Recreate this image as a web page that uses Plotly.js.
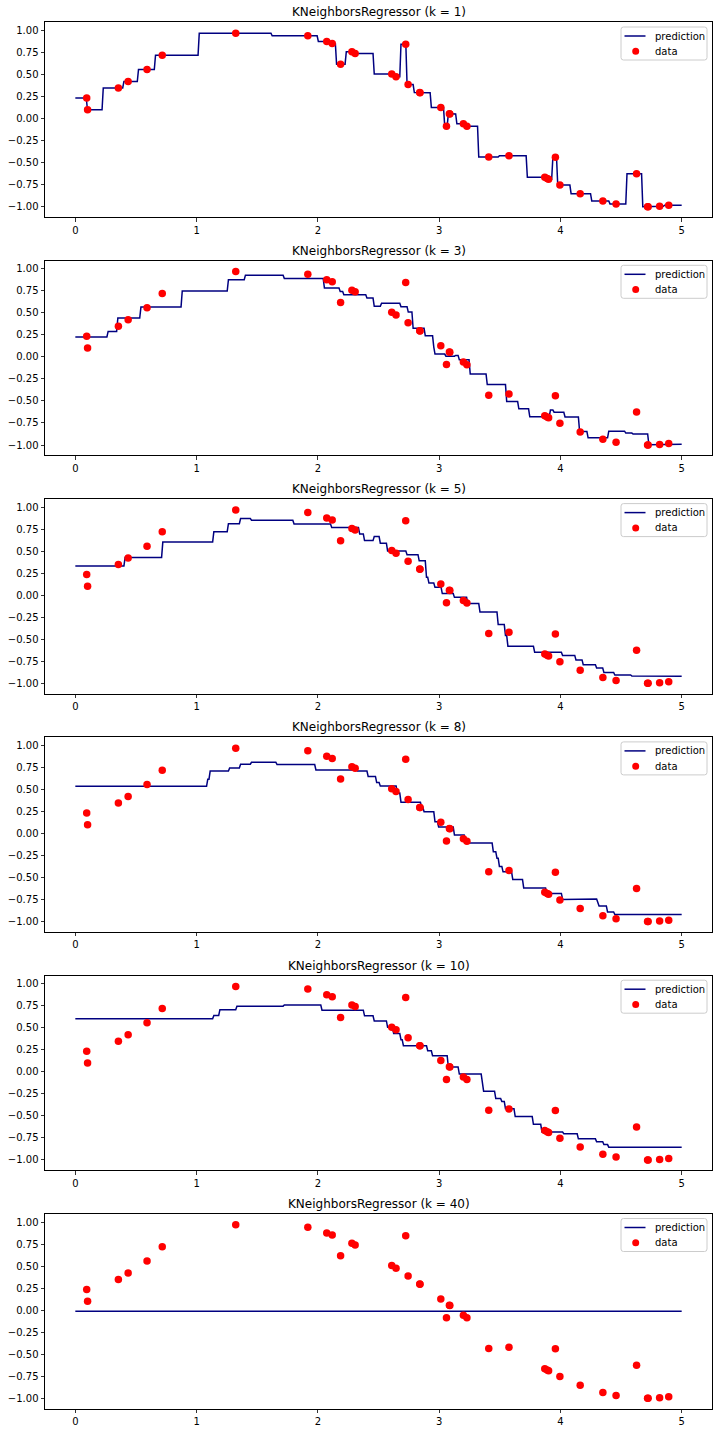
<!DOCTYPE html>
<html>
<head>
<meta charset="utf-8">
<script src="https://cdn.plot.ly/plotly-3.0.1.min.js"></script>
<style>html,body{margin:0;padding:0;background:#fff;}#chart{width:719px;height:1432px;}</style>
</head>
<body>
<div id="chart"></div>
<script>
// Data points (x sorted)
const dataX = [0.0939, 0.1011, 0.3552, 0.4356, 0.5914, 0.7168, 1.3228, 1.9172, 2.0733, 2.1183,
  2.1874, 2.2808, 2.3074, 2.6092, 2.6445, 2.7244, 2.7441, 2.8402, 2.8422, 3.0138,
  3.0605, 3.0847, 3.0880, 3.2000, 3.2290, 3.4091, 3.5759, 3.8712, 3.8908, 3.9026,
  3.9586, 3.9958, 4.1631, 4.3501, 4.4589, 4.6280, 4.7187, 4.7233, 4.8181, 4.8931];
const dataY = [0.2343, 0.1009, 0.3478, 0.4220, 0.5575, 0.7200, 0.9693, 0.9404, 0.8764, 0.8532,
  0.6183, 0.7584, 0.7407, 0.5075, 0.4769, 0.8450, 0.3871, 0.2968, 0.2949, 0.1275,
  -0.0858, 0.0569, 0.0536, -0.0584, -0.0874, -0.4349, -0.4208, -0.6666, -0.6811, -0.6896,
  -0.4394, -0.7540, -0.8523, -0.9350, -0.9680, -0.6254, -1.0000, -0.9999, -0.9944, -0.9837];
// Neighbour counts of the six panels
const kValues = [1, 3, 5, 8, 10, 40];
// Query grid of the prediction line (0 to 5, 500 points, as in the source plot)
const gridStart = 0, gridEnd = 5, gridCount = 500;
// Tick labels
const xTickVals = [0, 1, 2, 3, 4, 5];
const xTickText = ['0', '1', '2', '3', '4', '5'];
const yTickVals = [-1, -0.75, -0.5, -0.25, 0, 0.25, 0.5, 0.75, 1];
const yTickText = ['\u22121.00', '\u22120.75', '\u22120.50', '\u22120.25', '0.00', '0.25', '0.50', '0.75', '1.00'];
const legendLabels = ['prediction', 'data'];

// KNeighborsRegressor (uniform weights) fitted on the data points
const T = [];
for (let i = 0; i < gridCount; i++) T.push(gridStart + (gridEnd - gridStart) * i / (gridCount - 1));
function knnPredict(k) {
  return T.map(t => {
    const idx = dataX.map((x, j) => j).sort((a, b) => Math.abs(dataX[a] - t) - Math.abs(dataX[b] - t) || a - b);
    let s = 0;
    for (let j = 0; j < k; j++) s += dataY[idx[j]];
    return s / k;
  });
}

const W = 719, H = 1432;
const px = v => v / W, py = v => 1 - v / H;
const leftPx = 45, rightPx = 712, topPx0 = 22.3, bottomPx0 = 217, stepPx = 238.3;
const font = {family: 'DejaVu Sans', size: 10, color: '#000'};
const lineColor = '#000080', dotColor = '#ff0000';
const traces = [];
const layout = {
  width: W, height: H,
  margin: {l: 0, r: 0, t: 0, b: 0},
  paper_bgcolor: '#fff', plot_bgcolor: '#fff',
  font: font,
  showlegend: false,
  annotations: [],
  shapes: []
};

function roundRect(x0, y0, x1, y1, r) {
  return 'M' + px(x0 + r) + ',' + py(y0) +
    ' L' + px(x1 - r) + ',' + py(y0) + ' Q' + px(x1) + ',' + py(y0) + ' ' + px(x1) + ',' + py(y0 + r) +
    ' L' + px(x1) + ',' + py(y1 - r) + ' Q' + px(x1) + ',' + py(y1) + ' ' + px(x1 - r) + ',' + py(y1) +
    ' L' + px(x0 + r) + ',' + py(y1) + ' Q' + px(x0) + ',' + py(y1) + ' ' + px(x0) + ',' + py(y1 - r) +
    ' L' + px(x0) + ',' + py(y0 + r) + ' Q' + px(x0) + ',' + py(y0) + ' ' + px(x0 + r) + ',' + py(y0) + ' Z';
}

kValues.forEach((k, i) => {
  const n = i === 0 ? '' : String(i + 1);
  const top = topPx0 + stepPx * i, bottom = bottomPx0 + stepPx * i;
  traces.push({
    x: T, y: knnPredict(k), type: 'scatter', mode: 'lines',
    line: {color: lineColor, width: 1.5},
    name: legendLabels[0], xaxis: 'x' + n, yaxis: 'y' + n
  });
  traces.push({
    x: dataX, y: dataY, type: 'scatter', mode: 'markers',
    marker: {color: dotColor, size: 7.5},
    name: legendLabels[1], xaxis: 'x' + n, yaxis: 'y' + n
  });
  layout['xaxis' + n] = {
    domain: [leftPx / W, rightPx / W], anchor: 'y' + n,
    range: [-0.25, 5.25], tickvals: xTickVals, ticktext: xTickText,
    ticks: 'outside', ticklen: 3.5, tickwidth: 0.8, tickcolor: '#000',
    showline: true, mirror: true, linecolor: '#000', linewidth: 1,
    showgrid: false, zeroline: false, tickfont: font
  };
  layout['yaxis' + n] = {
    domain: [1 - bottom / H, 1 - top / H], anchor: 'x' + n,
    range: [-1.117, 1.094], tickvals: yTickVals, ticktext: yTickText,
    ticks: 'outside', ticklen: 3.5, tickwidth: 0.8, tickcolor: '#000',
    showline: true, mirror: true, linecolor: '#000', linewidth: 1,
    showgrid: false, zeroline: false, tickfont: font
  };
  // legend box (matplotlib style)
  const lt = top + 4.7;
  layout.shapes.push({
    type: 'path', xref: 'paper', yref: 'paper', layer: 'above',
    path: roundRect(621, lt, 707, lt + 33, 2.5),
    fillcolor: 'rgba(255,255,255,0.8)', line: {color: '#cccccc', width: 1}
  });
  layout.shapes.push({
    type: 'line', xref: 'paper', yref: 'paper', layer: 'above',
    x0: px(624.5), x1: px(645.5), y0: py(lt + 9), y1: py(lt + 9),
    line: {color: lineColor, width: 1.5}
  });
  layout.shapes.push({
    type: 'circle', xref: 'paper', yref: 'paper', layer: 'above',
    x0: px(635.7 - 3.5), x1: px(635.7 + 3.5), y0: py(lt + 24.3 - 3.5), y1: py(lt + 24.3 + 3.5),
    fillcolor: dotColor, line: {width: 0}
  });
  legendLabels.forEach((lab, j) => {
    layout.annotations.push({
      text: lab, xref: 'paper', yref: 'paper', x: px(652.5), y: py(lt + 9 + 15.3 * j),
      xanchor: 'left', yanchor: 'middle', showarrow: false, font: font
    });
  });
  layout.annotations.push({
    text: 'KNeighborsRegressor (k = ' + k + ')',
    xref: 'paper', yref: 'paper', x: (leftPx + rightPx) / 2 / W, y: 1 - (top - 10) / H,
    xanchor: 'center', yanchor: 'middle', showarrow: false,
    font: {family: 'DejaVu Sans', size: 12, color: '#000'}
  });
});

Plotly.newPlot('chart', traces, layout, {displayModeBar: false, staticPlot: true});
</script>
</body>
</html>
